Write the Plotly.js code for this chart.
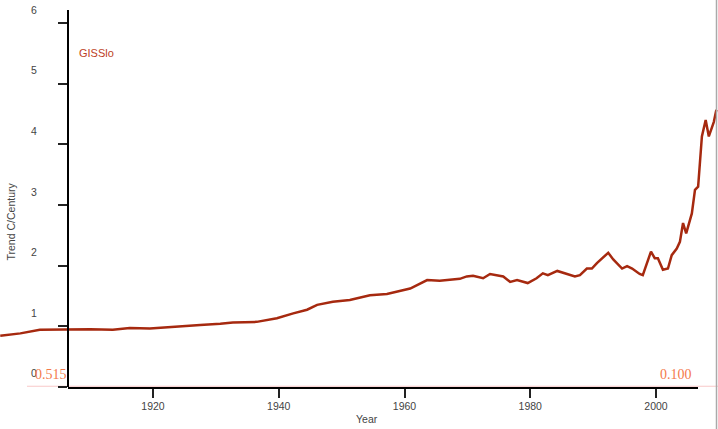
<!DOCTYPE html>
<html>
<head>
<meta charset="utf-8">
<script src="https://cdn.plot.ly/plotly-3.0.1.min.js"></script>
<style>
html,body{margin:0;padding:0;background:#fff;}
#chart{width:718px;height:429px;}
</style>
</head>
<body>
<div id="chart"></div>
<script>
// Data
const years = [1895.7, 1898.9, 1902.0, 1906.3, 1910.0, 1913.6, 1916.3, 1919.5, 1924.3, 1927.5,
  1930.7, 1932.7, 1936.5, 1939.7, 1942.3, 1944.5, 1946.1, 1948.6, 1951.3, 1952.9,
  1954.5, 1957.2, 1958.8, 1960.9, 1963.6, 1965.6, 1968.8, 1969.9, 1970.9, 1972.5,
  1973.6, 1975.7, 1976.8, 1977.9, 1979.6, 1980.0, 1981.0, 1982.0, 1982.8, 1984.3,
  1986.0, 1987.1, 1987.9, 1989.0, 1989.8, 1990.6, 1992.4, 1993.2, 1994.6, 1995.4,
  1996.2, 1997.4, 1997.9, 1998.6, 1999.2, 1999.8, 2000.3, 2001.1, 2001.9, 2002.5,
  2003.3, 2003.8, 2004.3, 2004.8, 2005.7, 2006.2, 2006.7, 2007.3, 2007.9, 2008.4,
  2008.9, 2009.2, 2009.6];
const trend = [0.84, 0.88, 0.94, 0.95, 0.95, 0.94, 0.97, 0.96, 1.00, 1.02,
  1.04, 1.06, 1.07, 1.13, 1.21, 1.27, 1.35, 1.40, 1.43, 1.47,
  1.51, 1.53, 1.57, 1.62, 1.76, 1.75, 1.78, 1.82, 1.83, 1.79,
  1.86, 1.82, 1.73, 1.76, 1.71, 1.73, 1.79, 1.87, 1.84, 1.91,
  1.86, 1.82, 1.84, 1.95, 1.95, 2.04, 2.21, 2.10, 1.95, 1.99,
  1.95, 1.86, 1.84, 2.04, 2.23, 2.12, 2.12, 1.93, 1.95, 2.17,
  2.28, 2.39, 2.70, 2.53, 2.86, 3.25, 3.30, 4.13, 4.40, 4.13,
  4.29, 4.37, 4.57];
const seriesName = "GISSlo";
const xTicks = [1920, 1940, 1960, 1980, 2000];
const yTicks = [0, 1, 2, 3, 4, 5, 6];
const leftNote = "0.515";
const rightNote = "0.100";

const W = 718, H = 429;
const px = v => v / W, py = v => (H - v) / H;

const traces = [
  {x: years, y: trend, xaxis: 'x2', yaxis: 'y', mode: 'lines',
   line: {color: 'rgba(0,0,0,0)', width: 0}, hoverinfo: 'skip', showlegend: false},
  {x: years, y: trend, xaxis: 'x', yaxis: 'y', mode: 'lines', name: seriesName,
   line: {color: '#a6290f', width: 2.5}, showlegend: false}
];

const layout = {
  width: W, height: H,
  margin: {l: 0, r: 0, t: 0, b: 0},
  paper_bgcolor: '#fff', plot_bgcolor: 'rgba(0,0,0,0)',
  showlegend: false,
  font: {family: 'Liberation Sans, Arial, sans-serif', color: '#444'},
  xaxis: {domain: [0, 1], range: [1895.66, 2009.86], visible: false, fixedrange: true},
  xaxis2: {anchor: 'y', domain: [px(68), px(697.7)], range: [1906.48, 2006.63],
    showline: true, linewidth: 2, linecolor: '#000', showgrid: false, zeroline: false,
    ticks: 'outside', ticklen: 9, tickwidth: 2, tickcolor: '#222',
    tickmode: 'array', tickvals: xTicks, ticktext: xTicks.map(String),
    tickfont: {size: 10.5, color: '#444'}, ticklabelstandoff: 0},
  yaxis: {anchor: 'free', position: px(68), domain: [py(386.7), py(10)], range: [0, 6.216],
    showline: true, linewidth: 2, linecolor: '#000', showgrid: false, zeroline: false,
    ticks: 'outside', ticklen: 9, tickwidth: 2, tickcolor: '#222',
    tickmode: 'array', tickvals: yTicks, ticktext: yTicks.map(String),
    tickfont: {size: 10.5, color: '#444'}, ticklabelshift: -13, ticklabelstandoff: 19},
  shapes: [
    {type: 'line', layer: 'below', xref: 'paper', yref: 'y', x0: px(27), x1: 1, y0: 0, y1: 0,
     line: {color: 'rgb(248,200,200)', width: 2}},
    {type: 'line', xref: 'paper', yref: 'paper', x0: px(716.5), x1: px(716.5), y0: 0, y1: 1,
     line: {color: '#aaa', width: 1.5}}
  ],
  annotations: [
    {text: seriesName, xref: 'paper', yref: 'paper', x: px(77), y: py(53.3), xanchor: 'left', yanchor: 'middle',
     showarrow: false, font: {size: 11, color: '#bd3f26'}},
    {text: leftNote, xref: 'paper', yref: 'paper', x: px(68.5), y: py(374), xanchor: 'right', yanchor: 'middle',
     showarrow: false, font: {family: 'Liberation Serif, Times New Roman, serif', size: 14, color: '#f47a4b'}},
    {text: rightNote, xref: 'paper', yref: 'paper', x: px(693.5), y: py(374), xanchor: 'right', yanchor: 'middle',
     showarrow: false, font: {family: 'Liberation Serif, Times New Roman, serif', size: 14, color: '#f47a4b'}},
    {text: 'Trend C/Century', xref: 'paper', yref: 'paper', x: px(10), y: py(221.5), xanchor: 'center', yanchor: 'middle',
     textangle: -90, showarrow: false, font: {size: 10.5, color: '#444'}},
    {text: 'Year', xref: 'paper', yref: 'paper', x: px(367), y: py(419), xanchor: 'center', yanchor: 'middle',
     showarrow: false, font: {size: 10.5, color: '#444'}}
  ]
};

Plotly.newPlot('chart', traces, layout, {staticPlot: true, displayModeBar: false});
</script>
</body>
</html>
